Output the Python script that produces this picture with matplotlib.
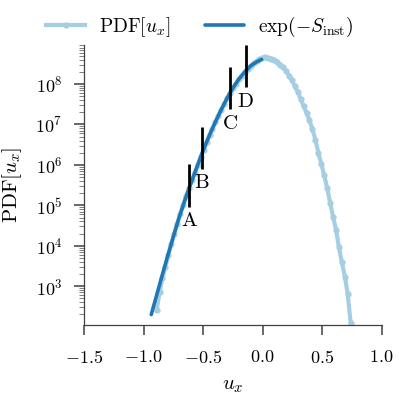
import numpy as np
import matplotlib
matplotlib.use("Agg")
import matplotlib.pyplot as plt

plt.rcParams.update({
    "font.family": "serif",
    "font.serif": ["cmr10"],
    "mathtext.fontset": "cm",
    "axes.formatter.use_mathtext": True,
    "axes.unicode_minus": False,
    "font.size": 13,
})

# histogram of u_x (bin centres) and log10 of the PDF
u_pdf = [-0.890, -0.865, -0.841, -0.816, -0.791, -0.767, -0.742, -0.717, -0.692, -0.668,
         -0.643, -0.618, -0.594, -0.569, -0.544, -0.520, -0.495, -0.470, -0.445, -0.421,
         -0.396, -0.371, -0.347, -0.322, -0.297, -0.273, -0.248, -0.223, -0.198, -0.174,
         -0.149, -0.124, -0.100, -0.075, -0.050, -0.026, -0.001, 0.024, 0.049, 0.073,
         0.098, 0.123, 0.147, 0.172, 0.197, 0.222, 0.246, 0.271, 0.296, 0.320,
         0.345, 0.370, 0.394, 0.419, 0.444, 0.468, 0.493, 0.518, 0.543, 0.567,
         0.592, 0.617, 0.641, 0.666, 0.691, 0.715, 0.740]
logpdf = [2.40, 2.85, 3.20, 3.48, 3.78, 4.04, 4.30, 4.55, 4.78, 5.00,
          5.22, 5.43, 5.62, 5.81, 6.00, 6.20, 6.38, 6.56, 6.74, 6.90,
          7.06, 7.22, 7.37, 7.51, 7.65, 7.78, 7.90, 8.01, 8.12, 8.21,
          8.30, 8.38, 8.45, 8.51, 8.56, 8.61, 8.65, 8.66, 8.65, 8.63,
          8.60, 8.55, 8.48, 8.41, 8.32, 8.21, 8.09, 7.95, 7.80, 7.63,
          7.45, 7.28, 7.10, 6.88, 6.62, 6.30, 6.03, 5.74, 5.42, 5.07,
          4.72, 4.40, 3.96, 3.59, 3.24, 2.80, 2.09]

# instanton action prediction exp(-S_inst)
u_inst = [-0.935, -0.90, -0.85, -0.80, -0.75, -0.70, -0.65, -0.60, -0.55, -0.50,
          -0.45, -0.40, -0.35, -0.30, -0.25, -0.20, -0.15, -0.10, -0.05, -0.008]
log_inst = [2.30, 2.67, 3.20, 3.72, 4.22, 4.71, 5.15, 5.56, 5.96, 6.35,
            6.71, 7.04, 7.35, 7.64, 7.90, 8.12, 8.30, 8.45, 8.55, 8.61]

# marked states
mark_labels = ["A", "B", "C", "D"]
mark_u = [-0.618, -0.509, -0.270, -0.143]
mark_lo = [4.97, 5.90, 7.38, 7.92]
mark_hi = [6.02, 6.95, 8.43, 8.96]

light, dark = "#a6cee3", "#1f78b4"

fig = plt.figure(figsize=(3.99, 3.99), dpi=100)
ax = fig.add_axes([0.2105, 0.1855, 0.746, 0.7015])

ax.plot(u_pdf, 10.0**np.array(logpdf), color=light, lw=3, marker="o", ms=3.5,
        label=r"$\mathrm{PDF}[u_x]$", zorder=2)
ax.plot(u_inst, 10.0**np.array(log_inst), color=dark, lw=2.6,
        solid_capstyle="round", label=r"$\exp(-S_{\rm inst})$", zorder=3)

for lab, u, lo, hi in zip(mark_labels, mark_u, mark_lo, mark_hi):
    ax.vlines(u, 10.0**lo, 10.0**hi, color="black", lw=2, zorder=4)
    ax.annotate(lab, (u, 10.0**lo), xytext=(0, -4), textcoords="offset points",
                ha="center", va="top", fontsize=15)

ax.set_yscale("log")
ax.set_xlim(-1.5, 1.0)
ax.set_ylim(1.1e2, 9.2e8)
ax.set_xticks([-1.5, -1.0, -0.5, 0.0, 0.5, 1.0])
ax.set_xlabel(r"$u_x$", fontsize=15)
ax.set_ylabel(r"$\mathrm{PDF}[u_x]$", fontsize=15)
ax.xaxis.set_label_coords(0.5, -0.185)
ax.yaxis.set_label_coords(-0.2, 0.5)

for s in ["top", "right"]:
    ax.spines[s].set_visible(False)
for s in ["left", "bottom"]:
    ax.spines[s].set_color("0.25")
    ax.spines[s].set_linewidth(0.9)
ax.tick_params(which="major", length=7.5, width=1.1, color="0.25", direction="out")
ax.tick_params(which="minor", length=3.5, width=0.6, color="0.4", direction="out")
ax.tick_params(axis="x", which="major", pad=10)
ax.tick_params(axis="y", which="major", pad=8)

fig.legend(loc="center", bbox_to_anchor=(0.5, 0.932), ncol=2, frameon=False,
           handlelength=2.0, handletextpad=0.7, columnspacing=1.8,
           numpoints=1, fontsize=14)

fig.savefig("out.png", dpi=100)
